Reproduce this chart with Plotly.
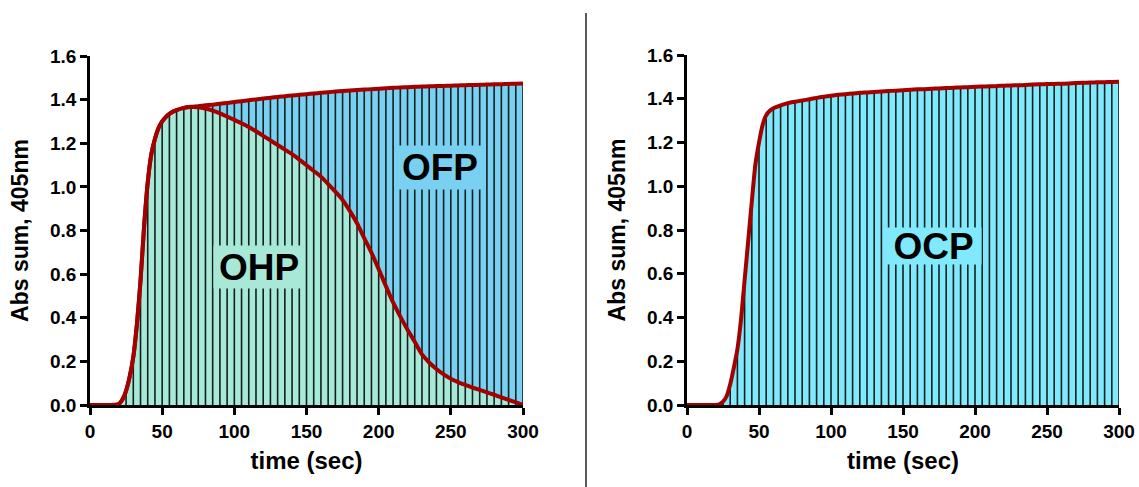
import plotly.graph_objects as go

# Sampling times (sec): coarse on the baseline, 2.5 s through the rise, 5 s afterwards
time_s = [0, 5, 10, 15,
          20, 22.5, 25, 27.5, 30, 32.5, 35, 37.5, 40, 42.5, 45, 47.5, 50, 52.5, 55, 57.5, 60,
          65, 70, 75, 80, 85, 90, 95, 100, 105, 110, 115, 120, 125, 130, 135, 140, 145, 150,
          155, 160, 165, 170, 175, 180, 185, 190, 195, 200, 205, 210, 215, 220, 225, 230,
          235, 240, 245, 250, 255, 260, 265, 270, 275, 280, 285, 290, 295, 300]

# Left panel: total absorbance (OHP + OFP)
left_total = [0, 0, 0, 0,
              0.005, 0.025, 0.065, 0.13, 0.22, 0.37, 0.57, 0.82, 1.02, 1.15, 1.22, 1.27, 1.30,
              1.320, 1.335, 1.345, 1.352,
              1.362, 1.367, 1.370, 1.374, 1.377, 1.381, 1.385, 1.389, 1.393, 1.397, 1.401, 1.405,
              1.409, 1.412, 1.416, 1.419, 1.422, 1.425, 1.428, 1.431, 1.434, 1.437, 1.440, 1.442,
              1.444, 1.446, 1.448, 1.450, 1.452, 1.454, 1.456, 1.457, 1.459, 1.460, 1.461, 1.462,
              1.463, 1.464, 1.465, 1.466, 1.467, 1.468, 1.469, 1.470, 1.471, 1.472, 1.473, 1.474]

# Left panel: OHP contribution
left_ohp = [0, 0, 0, 0,
            0.005, 0.025, 0.065, 0.13, 0.22, 0.37, 0.57, 0.82, 1.02, 1.15, 1.22, 1.27, 1.30,
            1.320, 1.335, 1.345, 1.352,
            1.362, 1.366, 1.365, 1.359, 1.350, 1.337, 1.322, 1.307, 1.292, 1.275, 1.255, 1.234,
            1.213, 1.192, 1.171, 1.150, 1.125, 1.099, 1.073, 1.047, 1.013, 0.978, 0.940, 0.890,
            0.833, 0.765, 0.698, 0.623, 0.545, 0.470, 0.405, 0.345, 0.290, 0.232, 0.195, 0.165,
            0.140, 0.120, 0.105, 0.092, 0.080, 0.069, 0.058, 0.047, 0.035, 0.023, 0.012, 0.0]

# Right panel: OCP absorbance
right_ocp = [0, 0, 0, 0,
             0.0, 0.003, 0.015, 0.04, 0.095, 0.17, 0.255, 0.39, 0.57, 0.75, 0.93, 1.10, 1.20,
             1.28, 1.325, 1.345, 1.357,
             1.370, 1.380, 1.386, 1.392, 1.398, 1.404, 1.409, 1.414, 1.418, 1.421, 1.424, 1.427,
             1.429, 1.431, 1.433, 1.435, 1.437, 1.439, 1.441, 1.443, 1.444, 1.446, 1.447, 1.449,
             1.450, 1.452, 1.453, 1.455, 1.456, 1.457, 1.458, 1.460, 1.461, 1.462, 1.463, 1.465,
             1.466, 1.467, 1.468, 1.469, 1.470, 1.472, 1.473, 1.474, 1.475, 1.476, 1.477, 1.478]

x_ticks = [0, 50, 100, 150, 200, 250, 300]
y_ticks = [0.0, 0.2, 0.4, 0.6, 0.8, 1.0, 1.2, 1.4, 1.6]

GREEN = "#A7E8D6"
BLUE = "#7AD0F1"
CYAN = "#80E9FB"
RED = "#A30000"
DROP = "#102020"
FONT = "Arial, Liberation Sans, sans-serif"
CURVE_W = 4


def drop_lines(values):
    """Vertical lines from the baseline up to every 5 s sample."""
    xs, ys = [], []
    for t, v in zip(time_s, values):
        if t >= 25 and t % 5 == 0:
            xs += [t, t, None]
            ys += [0, v, None]
    return xs, ys


fig = go.Figure()

# ---- left panel ----
fig.add_trace(go.Scatter(x=time_s, y=left_ohp, mode="lines", fill="tozeroy",
                         fillcolor=GREEN, line=dict(width=0, shape="spline", smoothing=0.6),
                         xaxis="x", yaxis="y", hoverinfo="skip"))
fig.add_trace(go.Scatter(x=time_s, y=left_total, mode="lines", fill="tonexty",
                         fillcolor=BLUE, line=dict(width=0, shape="spline", smoothing=0.6),
                         xaxis="x", yaxis="y", hoverinfo="skip"))
dx, dy = drop_lines(left_total)
fig.add_trace(go.Scatter(x=dx, y=dy, mode="lines", line=dict(color=DROP, width=1.6),
                         xaxis="x", yaxis="y", hoverinfo="skip"))
fig.add_trace(go.Scatter(x=time_s, y=left_ohp, mode="lines",
                         line=dict(color=RED, width=CURVE_W, shape="spline", smoothing=0.6),
                         xaxis="x", yaxis="y"))
fig.add_trace(go.Scatter(x=time_s, y=left_total, mode="lines",
                         line=dict(color=RED, width=CURVE_W, shape="spline", smoothing=0.6),
                         xaxis="x", yaxis="y"))

# ---- right panel ----
fig.add_trace(go.Scatter(x=time_s, y=right_ocp, mode="lines", fill="tozeroy",
                         fillcolor=CYAN, line=dict(width=0, shape="spline", smoothing=0.6),
                         xaxis="x2", yaxis="y2", hoverinfo="skip"))
dx, dy = drop_lines(right_ocp)
fig.add_trace(go.Scatter(x=dx, y=dy, mode="lines", line=dict(color=DROP, width=1.6),
                         xaxis="x2", yaxis="y2", hoverinfo="skip"))
fig.add_trace(go.Scatter(x=time_s, y=right_ocp, mode="lines",
                         line=dict(color=RED, width=CURVE_W, shape="spline", smoothing=0.6),
                         xaxis="x2", yaxis="y2"))

axis_common = dict(
    showgrid=False, zeroline=False, showline=True, linecolor="black", linewidth=2.5,
    ticks="outside", ticklen=7, tickwidth=2.5, tickcolor="black",
    tickfont=dict(family=FONT, size=19, color="black", weight="bold"),
    layer="below traces", automargin=False,
)
x_common = dict(axis_common, range=[0, 300], tickvals=x_ticks,
                title=dict(text="time (sec)", standoff=12,
                           font=dict(family=FONT, size=24, color="black", weight="bold")))
y_common = dict(axis_common, range=[0, 1.6], tickvals=y_ticks, tickformat=".1f",
                title=dict(text="Abs sum, 405nm", standoff=15,
                           font=dict(family=FONT, size=23, color="black", weight="bold")))

fig.update_layout(
    width=1139, height=487,
    margin=dict(l=0, r=0, t=0, b=0, autoexpand=False),
    paper_bgcolor="white", plot_bgcolor="white",
    showlegend=False,
    xaxis=dict(x_common, domain=[90 / 1139, 523 / 1139], anchor="y"),
    yaxis=dict(y_common, domain=[82 / 487, 431 / 487], anchor="x"),
    xaxis2=dict(x_common, domain=[687 / 1139, 1119 / 1139], anchor="y2"),
    yaxis2=dict(y_common, domain=[82 / 487, 432 / 487], anchor="x2"),
)

label_font = dict(family=FONT, size=37, color="black", weight="bold")
fig.add_annotation(x=117, y=0.634, xref="x", yref="y", text="OHP", showarrow=False,
                   font=label_font, bgcolor=GREEN, width=90, height=42, borderpad=0)
fig.add_annotation(x=242.5, y=1.09, xref="x", yref="y", text="OFP", showarrow=False,
                   font=label_font, bgcolor=BLUE, width=90, height=43, borderpad=0)
fig.add_annotation(x=171.4, y=0.728, xref="x2", yref="y2", text="OCP", showarrow=False,
                   font=label_font, bgcolor=CYAN, width=95, height=36, borderpad=0)

# divider between the two panels
fig.add_shape(type="line", xref="paper", yref="paper",
              x0=586 / 1139, x1=586 / 1139, y0=0, y1=(487 - 13) / 487,
              line=dict(color="black", width=1.3))

fig.write_html("out.html")
